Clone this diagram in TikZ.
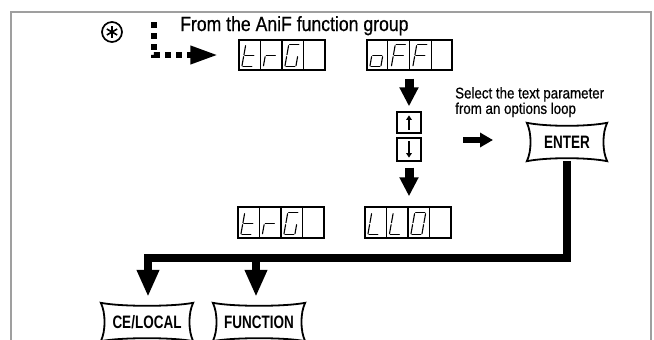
\documentclass[tikz,border=0pt]{standalone}
\usepackage{fontspec}
\setmainfont{Liberation Sans}
\newfontfamily\condfont[FakeStretch=0.75]{Liberation Sans}
\newfontfamily\medfont[FakeStretch=0.86, FakeBold=0.6]{Liberation Sans}
\usetikzlibrary{arrows.meta,calc}

\tikzset{
  lcdbox/.style={draw, line width=1.4pt, minimum width=86pt, minimum height=30pt, inner sep=0pt},
  lcdline/.style={line width=1.1pt},
  segline/.style={line width=1.1pt, shorten <=1pt, shorten >=1pt, line cap=round},
  keylabel/.style={inner sep=0pt, minimum height=38pt, font=\condfont\bfseries\fontsize{18}{18}\selectfont},
  keyline/.style={line width=1.8pt, line join=miter},
  smallkey/.style={draw, line width=1.3pt, minimum width=24pt, inner sep=0pt},
  midarrow/.style={line width=9pt, -{Triangle[length=19pt,width=18pt]}},
  bigarrow/.style={line width=8pt, -{Triangle[length=27pt,width=21pt]}},
  thickline/.style={line width=7.5pt, line join=miter},
  tinyarrow/.style={line width=1.7pt, -{Triangle[length=4.5pt,width=5.5pt]}},
}

% digit inside display #1, cell #2, segments #3 as point pairs
\newcommand{\segdigit}[3]{%
  \begin{scope}[shift={($(#1.south west)+(#2*21.5+3.5,-4)$)}, xslant=0.18]
    \coordinate (p1) at (0,-22); \coordinate (p2) at (11,-22);
    \coordinate (p3) at (0,-11); \coordinate (p4) at (11,-11);
    \coordinate (p5) at (0,0);   \coordinate (p6) at (11,0);
    \foreach \a/\b in {#3} {\draw[segline] (p\a) -- (p\b);}
  \end{scope}}
\newcommand{\cells}[1]{%
  \foreach \i in {1,2,3}
    \draw[lcdline] ($(#1.north west)!\i/4!(#1.north east)$) -- ($(#1.south west)!\i/4!(#1.south east)$);}
\newcommand{\pillow}[1]{%
  \draw[keyline] (#1.north west)
    .. controls ($(#1.north west)+(20,4)$) and ($(#1.north east)+(-20,4)$) .. (#1.north east)
    .. controls ($(#1.north east)+(-5,10)$) and ($(#1.south east)+(-5,-10)$) .. (#1.south east)
    .. controls ($(#1.south east)+(-20,-4)$) and ($(#1.south west)+(20,-4)$) .. (#1.south west)
    .. controls ($(#1.south west)+(5,-10)$) and ($(#1.north west)+(5,10)$) .. cycle;}

\begin{document}
\begin{tikzpicture}[x=1pt,y=-1pt]
\useasboundingbox (0,0) rectangle (654,340);

% frame
\draw[gray!75, line width=1.5pt] (11,346) -- (11,12) -- (651,12) -- (651,346);

% star symbol
\node[draw, circle, line width=1.7pt, minimum size=20pt, inner sep=0pt] (star) at (112,32) {};
\foreach \ang in {90,210,330} \draw[line width=1.6pt] (star.center) -- ++(\ang:6);
\foreach \ang in {30,150,270} \draw[line width=1.6pt] (star.center) -- ++(\ang:6);

% title
\node[anchor=base west, inner sep=0pt, font=\medfont\fontsize{20.5}{20.5}\selectfont] (title) at (180,31) {From the AniF function group};

% displays
\node[lcdbox] (d1) at (282,55) {};
\node[lcdbox, minimum width=85pt] (d2) at (409.5,55) {};
\node[lcdbox, minimum height=31pt] (d3) at (281,222.5) {};
\node[lcdbox, minimum height=31pt] (d4) at (408,222.5) {};
\cells{d1}\cells{d2}\cells{d3}\cells{d4}
% trG
\segdigit{d1}{0}{1/3,3/5,5/6,3/4}
\segdigit{d1}{1}{3/5,3/4}
\segdigit{d1}{2}{1/2,1/3,3/5,5/6,4/6}
% oFF
\segdigit{d2}{0}{3/4,3/5,5/6,4/6}
\segdigit{d2}{1}{1/2,1/3,3/4,3/5}
\segdigit{d2}{2}{1/2,1/3,3/4,3/5}
% trG
\segdigit{d3}{0}{1/3,3/5,5/6,3/4}
\segdigit{d3}{1}{3/5,3/4}
\segdigit{d3}{2}{1/2,1/3,3/5,5/6,4/6}
% LL0
\segdigit{d4}{0}{1/3,3/5,5/6}
\segdigit{d4}{1}{1/3,3/5,5/6}
\segdigit{d4}{2}{1/2,2/4,4/6,5/6,3/5,1/3}

% dashed entry arrow
\coordinate (dstart) at (154,22);
\draw[line width=6.5pt, dash pattern=on 6pt off 5pt, -{Triangle[length=28pt,width=17pt]}, shorten >=20pt]
  (dstart) |- (d1.west);

% up/down keys
\node[smallkey, minimum height=21pt] (up) at (409,122.5) {};
\node[smallkey, minimum height=23pt] (down) at (409,149.5) {};
\draw[tinyarrow] ($(up.south)+(0,-4)$) -- ($(up.north)+(0,4)$);
\draw[tinyarrow] ($(down.north)+(0,4)$) -- ($(down.south)+(0,-4)$);

\draw[midarrow, shorten <=8pt, shorten >=5pt] (d2.south -| up) -- (up.north);
\draw[midarrow, shorten <=6pt, shorten >=10pt] (down.south) -- (down.south |- d4.north);

% text
\node[anchor=north west, inner sep=0pt, align=left, font=\medfont\fontsize{15.5}{12.5}\selectfont] (sel) at (455,87)
  {Select the text parameter\\from an options loop};

% keys
\node[keylabel, minimum width=80pt] (enter) at (567,142) {ENTER};
\pillow{enter}
\node[keylabel, minimum width=92pt] (celocal) at (147,322) {CE/LOCAL};
\pillow{celocal}
\node[keylabel, minimum width=92pt] (function) at (259,322) {FUNCTION};
\pillow{function}

% right arrow
\coordinate (ra) at (463,140);
\draw[line width=6pt, -{Triangle[length=13pt,width=14pt]}] (ra) -- ($(ra)+(30,0)$);

% output lines
\coordinate (hl) at (148,258);
\coordinate (hr) at (256,258);
\draw[thickline] (enter.south) |- (hl);
\draw[bigarrow, shorten >=6pt] ($(hl)+(0,-3.75)$) -- (hl |- celocal.north);
\draw[bigarrow, shorten >=6pt] (hr) -- (hr |- function.north);
\end{tikzpicture}
\end{document}
